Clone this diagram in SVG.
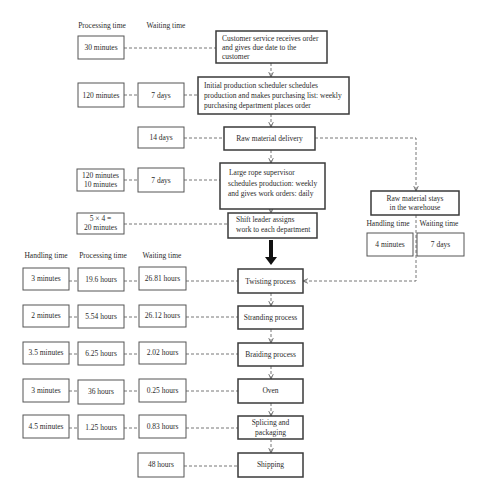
<svg xmlns="http://www.w3.org/2000/svg" width="487" height="500" viewBox="0 0 487 500">
<defs>
<style>
text{font-family:"Liberation Serif","Times New Roman",serif;font-size:7.5px;fill:#2b2b2b}
.c{text-anchor:middle}
.p{fill:#fff;stroke:#3a3a3a;stroke-width:1.5}
.d{fill:#fff;stroke:#555;stroke-width:1}
.l{fill:none;stroke:#666;stroke-width:0.9;stroke-dasharray:3,2}
.a{marker-end:url(#ah)}
</style>
<marker id="ah" viewBox="0 0 8 8" refX="7.5" refY="4" markerWidth="6" markerHeight="6" orient="auto" markerUnits="userSpaceOnUse">
<path d="M1,1 L7.5,4 L1,7" fill="none" stroke="#555" stroke-width="1.1"/>
</marker>
</defs>
<rect width="487" height="500" fill="#fff"/>

<g id="headers">
<text class="c" x="102" y="28">Processing time</text>
<text class="c" x="166" y="28">Waiting time</text>
<text class="c" x="46" y="258">Handling time</text>
<text class="c" x="103" y="258">Processing time</text>
<text class="c" x="162" y="258">Waiting time</text>
<text class="c" x="388" y="226">Handling time</text>
<text class="c" x="439" y="226">Waiting time</text>
</g>

<g id="connectors">
<line class="l" x1="124" y1="48" x2="216" y2="48"/>
<line class="l" x1="124" y1="95" x2="138" y2="95"/>
<line class="l" x1="184" y1="95" x2="198" y2="95"/>
<line class="l" x1="184" y1="138" x2="224" y2="138"/>
<line class="l" x1="124" y1="180" x2="138" y2="180"/>
<line class="l" x1="184" y1="180" x2="220" y2="180"/>
<line class="l" x1="124" y1="224" x2="228" y2="224"/>
<line class="l a" x1="271" y1="63" x2="271" y2="77"/>
<line class="l a" x1="271" y1="114" x2="271" y2="127"/>
<line class="l a" x1="271" y1="150" x2="271" y2="163"/>
<line class="l a" x1="271" y1="209" x2="271" y2="213"/>
<polyline class="l a" points="315,138 416,138 416,191"/>
<polyline class="l a" points="416,215 416,281 303,281"/>
<path d="M269,240 H273 V257 H277 L271,265 L265,257 H269 Z" fill="#111"/>
<line class="l" x1="69" y1="281" x2="78" y2="281"/>
<line class="l" x1="124" y1="281" x2="139" y2="281"/>
<line class="l" x1="186" y1="281" x2="238" y2="281"/>
<line class="l" x1="69" y1="317" x2="78" y2="317"/>
<line class="l" x1="124" y1="317" x2="139" y2="317"/>
<line class="l" x1="186" y1="317" x2="238" y2="317"/>
<line class="l" x1="69" y1="354" x2="78" y2="354"/>
<line class="l" x1="124" y1="354" x2="139" y2="354"/>
<line class="l" x1="186" y1="354" x2="238" y2="354"/>
<line class="l" x1="69" y1="391" x2="78" y2="391"/>
<line class="l" x1="124" y1="391" x2="139" y2="391"/>
<line class="l" x1="186" y1="391" x2="238" y2="391"/>
<line class="l" x1="69" y1="428" x2="78" y2="428"/>
<line class="l" x1="124" y1="428" x2="139" y2="428"/>
<line class="l" x1="186" y1="428" x2="238" y2="428"/>
<line class="l" x1="184" y1="466" x2="238" y2="466"/>
<line class="l a" x1="271" y1="293" x2="271" y2="306"/>
<line class="l a" x1="271" y1="329" x2="271" y2="343"/>
<line class="l a" x1="271" y1="366" x2="271" y2="379"/>
<line class="l a" x1="271" y1="403" x2="271" y2="416"/>
<line class="l a" x1="271" y1="439" x2="271" y2="453"/>
</g>

<g id="n-30min"><rect class="d" x="78" y="36" width="46" height="23"/><text class="c" x="101" y="50">30 minutes</text></g>
<g id="n-customer"><rect class="p" x="216" y="31" width="111" height="32"/>
<text x="222" y="41">Customer service receives order</text>
<text x="222" y="50">and gives due date to the</text>
<text x="222" y="59">customer</text></g>

<g id="n-120min"><rect class="d" x="78" y="83" width="46" height="24"/><text class="c" x="101" y="98">120 minutes</text></g>
<g id="n-7days-a"><rect class="d" x="138" y="83" width="46" height="24"/><text class="c" x="161" y="98">7 days</text></g>
<g id="n-initial"><rect class="p" x="198" y="77" width="151" height="37"/>
<text x="204" y="88">Initial production scheduler schedules</text>
<text x="204" y="98">production and makes purchasing list: weekly</text>
<text x="204" y="108">purchasing department places order</text></g>

<g id="n-14days"><rect class="d" x="138" y="127" width="46" height="21"/><text class="c" x="161" y="140">14 days</text></g>
<g id="n-raw"><rect class="p" x="224" y="127" width="91" height="23"/><text class="c" x="269.5" y="141">Raw material delivery</text></g>

<g id="n-120-10min"><rect class="d" x="77" y="169" width="47" height="22"/>
<text class="c" x="100.5" y="178">120 minutes</text><text class="c" x="100.5" y="187">10 minutes</text></g>
<g id="n-7days-b"><rect class="d" x="138" y="168" width="46" height="24"/><text class="c" x="161" y="183">7 days</text></g>
<g id="n-rope"><rect class="p" x="220" y="163" width="105" height="46"/>
<text x="229" y="175">Large rope supervisor</text>
<text x="228" y="185.5">schedules production: weekly</text>
<text x="228" y="196">and gives work orders: daily</text></g>

<g id="n-5x4"><rect class="d" x="77" y="213" width="47" height="21"/>
<text class="c" x="100.5" y="221">5 × 4 =</text><text class="c" x="100.5" y="230">20 minutes</text></g>
<g id="n-shift"><rect class="p" x="228" y="213" width="89" height="25"/>
<text x="236" y="222">Shift leader assigns</text>
<text x="236" y="232">work to each department</text></g>

<g id="n-warehouse"><rect class="p" x="371" y="191" width="88" height="24"/>
<text class="c" x="415" y="200.5">Raw material stays</text>
<text class="c" x="415" y="210">in the warehouse</text></g>
<g id="n-4min"><rect class="d" x="367" y="233" width="46" height="23"/><text class="c" x="390" y="247">4 minutes</text></g>
<g id="n-7days-c"><rect class="d" x="417" y="233" width="47" height="23"/><text class="c" x="440.5" y="247">7 days</text></g>

<g id="n-r1h"><rect class="d" x="23" y="268" width="46" height="22"/><text class="c" x="46" y="281">3 minutes</text></g>
<g id="n-r1p"><rect class="d" x="78" y="268" width="46" height="23"/><text class="c" x="101" y="282">19.6 hours</text></g>
<g id="n-r1w"><rect class="d" x="139" y="267" width="47" height="23"/><text class="c" x="162.5" y="281">26.81 hours</text></g>
<g id="n-twisting"><rect class="p" x="238" y="269" width="65" height="24"/><text class="c" x="270.5" y="283.5">Twisting process</text></g>

<g id="n-r2h"><rect class="d" x="23" y="305" width="46" height="22"/><text class="c" x="46" y="318">2 minutes</text></g>
<g id="n-r2p"><rect class="d" x="78" y="305" width="46" height="23"/><text class="c" x="101" y="319">5.54 hours</text></g>
<g id="n-r2w"><rect class="d" x="139" y="305" width="47" height="22"/><text class="c" x="162.5" y="318">26.12 hours</text></g>
<g id="n-stranding"><rect class="p" x="238" y="306" width="65" height="23"/><text class="c" x="270.5" y="320">Stranding process</text></g>

<g id="n-r3h"><rect class="d" x="23" y="342" width="46" height="22"/><text class="c" x="46" y="355">3.5 minutes</text></g>
<g id="n-r3p"><rect class="d" x="78" y="342" width="46" height="23"/><text class="c" x="101" y="356">6.25 hours</text></g>
<g id="n-r3w"><rect class="d" x="139" y="342" width="47" height="22"/><text class="c" x="162.5" y="355">2.02 hours</text></g>
<g id="n-braiding"><rect class="p" x="238" y="343" width="65" height="23"/><text class="c" x="270.5" y="357">Braiding process</text></g>

<g id="n-r4h"><rect class="d" x="23" y="379" width="46" height="23"/><text class="c" x="46" y="393">3 minutes</text></g>
<g id="n-r4p"><rect class="d" x="78" y="380" width="46" height="24"/><text class="c" x="101" y="394">36 hours</text></g>
<g id="n-r4w"><rect class="d" x="139" y="379" width="47" height="23"/><text class="c" x="162.5" y="393">0.25 hours</text></g>
<g id="n-oven"><rect class="p" x="238" y="379" width="65" height="24"/><text class="c" x="270.5" y="393">Oven</text></g>

<g id="n-r5h"><rect class="d" x="23" y="415" width="46" height="23"/><text class="c" x="46" y="429">4.5 minutes</text></g>
<g id="n-r5p"><rect class="d" x="78" y="415" width="46" height="24"/><text class="c" x="101" y="430">1.25 hours</text></g>
<g id="n-r5w"><rect class="d" x="139" y="415" width="47" height="23"/><text class="c" x="162.5" y="429">0.83 hours</text></g>
<g id="n-splicing"><rect class="p" x="238" y="416" width="65" height="23"/>
<text class="c" x="270.5" y="425">Splicing and</text><text class="c" x="270.5" y="434.5">packaging</text></g>

<g id="n-48h"><rect class="d" x="138" y="453" width="46" height="24"/><text class="c" x="161" y="467">48 hours</text></g>
<g id="n-shipping"><rect class="p" x="238" y="453" width="65" height="24"/><text class="c" x="270.5" y="467">Shipping</text></g>
</svg>
